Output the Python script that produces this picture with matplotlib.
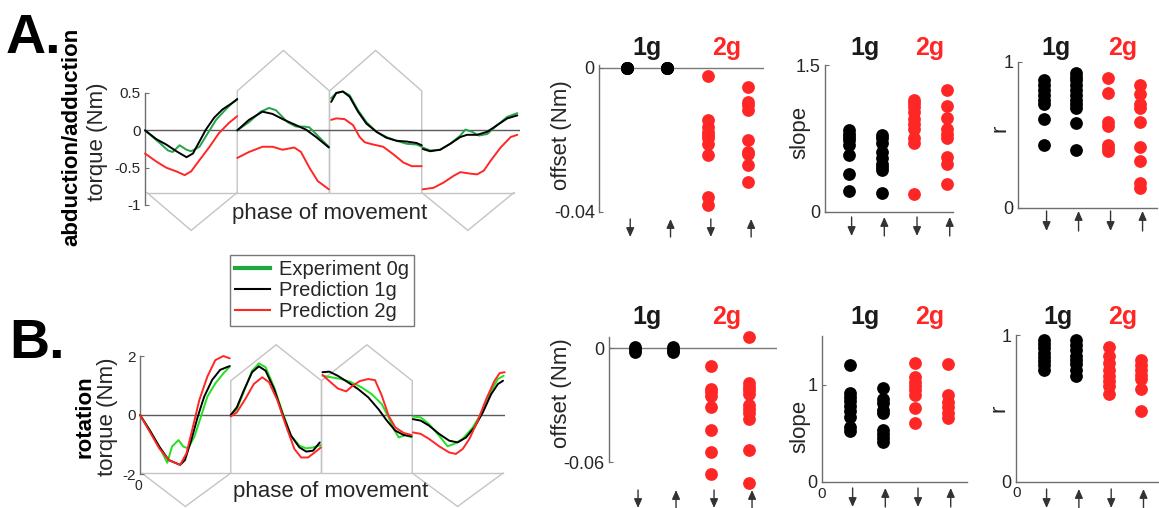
import matplotlib
matplotlib.use("Agg")
import matplotlib.pyplot as plt
from matplotlib.lines import Line2D
from matplotlib.transforms import blended_transform_factory

plt.rcParams['font.family'] = ['Liberation Sans', 'DejaVu Sans']

# ---------------- data ----------------
# torque traces: phase of movement (segment index + fraction) and torque (Nm)
abd_exp0g_phase = [
    [0, 0.16, 0.25, 0.30, 0.375, 0.45, 0.50, 0.59, 0.68, 0.77, 0.875, 0.95, 1.0],
    [1.0, 1.127, 1.255, 1.345, 1.418, 1.545, 1.636, 1.727, 1.782, 1.855, 1.927, 1.993],
    [2.018, 2.073, 2.145, 2.218, 2.309, 2.4, 2.509, 2.618, 2.727, 2.836, 2.945, 3.0],
    [3.011, 3.091, 3.2, 3.309, 3.418, 3.473, 3.545, 3.618, 3.709, 3.818, 3.927, 4.036]]
abd_exp0g = [
    [0.0, -0.17, -0.27, -0.29, -0.20, -0.26, -0.28, -0.22, -0.04, 0.14, 0.28, 0.37, 0.41],
    [0.0, 0.11, 0.25, 0.30, 0.27, 0.11, 0.05, 0.05, 0.04, -0.05, -0.14, -0.22],
    [0.43, 0.50, 0.52, 0.47, 0.27, 0.11, -0.02, -0.09, -0.14, -0.18, -0.19, -0.22],
    [-0.23, -0.27, -0.26, -0.18, -0.07, 0.01, -0.02, -0.07, -0.05, 0.07, 0.18, 0.23]]
abd_pred1g_phase = [
    [0, 0.125, 0.23, 0.34, 0.45, 0.52, 0.59, 0.66, 0.75, 0.84, 0.95, 1.0],
    [1.0, 1.127, 1.273, 1.382, 1.509, 1.636, 1.745, 1.855, 1.993],
    [2.018, 2.073, 2.145, 2.218, 2.309, 2.4, 2.509, 2.618, 2.727, 2.836, 2.945, 3.0],
    [3.011, 3.091, 3.2, 3.309, 3.418, 3.491, 3.6, 3.709, 3.818, 3.927, 4.036]]
abd_pred1g = [
    [0.0, -0.12, -0.19, -0.28, -0.36, -0.31, -0.15, 0.01, 0.17, 0.28, 0.37, 0.42],
    [0.0, 0.14, 0.25, 0.22, 0.14, 0.07, 0.01, -0.09, -0.23],
    [0.38, 0.50, 0.52, 0.45, 0.25, 0.09, -0.02, -0.10, -0.14, -0.15, -0.17, -0.20],
    [-0.25, -0.28, -0.26, -0.18, -0.09, -0.06, -0.06, -0.02, 0.07, 0.16, 0.20]]
abd_pred2g_phase = [
    [0, 0.125, 0.23, 0.34, 0.43, 0.50, 0.59, 0.70, 0.80, 0.91, 1.0],
    [1.0, 1.127, 1.273, 1.382, 1.491, 1.618, 1.691, 1.782, 1.873, 1.993],
    [2.018, 2.073, 2.164, 2.255, 2.327, 2.382, 2.473, 2.582, 2.691, 2.8, 2.891, 3.0],
    [3.011, 3.127, 3.236, 3.345, 3.418, 3.527, 3.6, 3.673, 3.745, 3.855, 3.964, 4.036]]
abd_pred2g = [
    [-0.31, -0.42, -0.50, -0.55, -0.60, -0.55, -0.40, -0.22, -0.04, 0.10, 0.19],
    [-0.37, -0.29, -0.22, -0.22, -0.26, -0.23, -0.29, -0.50, -0.68, -0.79],
    [0.14, 0.16, 0.15, 0.07, -0.09, -0.16, -0.19, -0.22, -0.32, -0.43, -0.48, -0.48],
    [-0.79, -0.77, -0.70, -0.61, -0.56, -0.58, -0.59, -0.54, -0.41, -0.23, -0.09, -0.06]]

rot_exp0g_phase = [
    [0, 0.106, 0.212, 0.30, 0.353, 0.424, 0.477, 0.530, 0.60, 0.671, 0.742, 0.830, 0.919, 0.989],
    [1.0, 1.067, 1.142, 1.235, 1.310, 1.384, 1.478, 1.571, 1.664, 1.757, 1.832, 1.907, 1.993],
    [2.011, 2.104, 2.216, 2.328, 2.440, 2.552, 2.664, 2.739, 2.795, 2.851, 2.925, 2.993],
    [3.007, 3.093, 3.185, 3.296, 3.389, 3.463, 3.556, 3.667, 3.778, 3.870, 3.944, 4.007]]
rot_exp0g = [
    [0.0, -0.51, -1.07, -1.62, -1.07, -0.85, -1.07, -1.13, -0.73, -0.06, 0.62, 1.07, 1.41, 1.64],
    [0.0, 0.20, 0.77, 1.50, 1.75, 1.62, 0.94, 0.09, -0.70, -1.04, -1.13, -1.10, -1.02],
    [1.33, 1.28, 1.22, 1.11, 0.94, 0.71, 0.37, -0.08, -0.47, -0.76, -0.68, -0.76],
    [-0.05, -0.08, -0.31, -0.70, -1.06, -0.98, -0.81, -0.42, 0.15, 0.82, 1.22, 1.33]]
rot_pred1g_phase = [
    [0, 0.106, 0.212, 0.318, 0.442, 0.495, 0.565, 0.636, 0.707, 0.795, 0.883, 0.989],
    [1.0, 1.067, 1.142, 1.235, 1.310, 1.384, 1.478, 1.571, 1.664, 1.757, 1.832, 1.907, 1.981],
    [2.011, 2.086, 2.179, 2.291, 2.403, 2.515, 2.627, 2.720, 2.813, 2.907, 2.993],
    [3.007, 3.093, 3.185, 3.296, 3.407, 3.5, 3.593, 3.685, 3.778, 3.870, 3.944, 4.0]]
rot_pred1g = [
    [0.0, -0.51, -1.07, -1.53, -1.69, -1.53, -0.85, -0.06, 0.62, 1.19, 1.53, 1.66],
    [0.0, 0.26, 0.82, 1.45, 1.65, 1.50, 0.88, 0.03, -0.70, -1.10, -1.24, -1.21, -0.93],
    [1.45, 1.47, 1.33, 1.11, 0.88, 0.60, 0.20, -0.19, -0.53, -0.68, -0.72],
    [-0.14, -0.19, -0.36, -0.64, -0.87, -0.93, -0.76, -0.42, 0.09, 0.71, 1.05, 1.16]]
rot_pred2g_phase = [
    [0, 0.106, 0.212, 0.318, 0.442, 0.512, 0.583, 0.654, 0.742, 0.830, 0.919, 0.989],
    [1.0, 1.067, 1.160, 1.254, 1.347, 1.422, 1.515, 1.608, 1.701, 1.776, 1.851, 1.925, 1.993],
    [2.011, 2.086, 2.179, 2.272, 2.347, 2.422, 2.515, 2.590, 2.664, 2.739, 2.813, 2.907, 2.993],
    [3.007, 3.093, 3.185, 3.296, 3.407, 3.481, 3.556, 3.630, 3.722, 3.815, 3.907, 3.963, 4.019]]
rot_pred2g = [
    [0.0, -0.56, -1.13, -1.53, -1.69, -1.30, -0.40, 0.51, 1.30, 1.86, 2.0, 1.92],
    [-0.05, 0.09, 0.54, 1.05, 1.28, 1.11, 0.49, -0.36, -1.15, -1.44, -1.44, -1.27, -1.10],
    [1.36, 1.15, 0.90, 0.80, 1.00, 1.15, 1.22, 1.18, 0.66, -0.02, -0.42, -0.61, -0.68],
    [-0.59, -0.64, -0.81, -1.06, -1.27, -1.32, -1.15, -0.81, -0.19, 0.54, 1.16, 1.42, 1.45]]

series_labels = ['Experiment 0g', 'Prediction 1g', 'Prediction 2g']
group_labels = ['1g', '2g']
direction_labels = ['down', 'up', 'down', 'up']

# scatter panels: columns = 1g down, 1g up, 2g down, 2g up
abd_offset = [[0, 0, 0, 0, 0], [0, 0, 0, 0, 0],
              [-0.0022, -0.0145, -0.0164, -0.0178, -0.0187, -0.0196, -0.021, -0.0243, -0.0358, -0.038],
              [-0.0053, -0.0094, -0.0104, -0.0118, -0.0201, -0.0233, -0.0238, -0.027, -0.0317]]
abd_slope = [[0.835, 0.80, 0.77, 0.73, 0.68, 0.58, 0.39, 0.21],
             [0.79, 0.75, 0.70, 0.61, 0.55, 0.49, 0.46, 0.43, 0.19],
             [1.14, 1.11, 1.07, 1.02, 0.95, 0.90, 0.85, 0.75, 0.70, 0.18],
             [1.25, 1.08, 0.96, 0.85, 0.80, 0.75, 0.56, 0.49, 0.29]]
abd_r = [[0.874, 0.845, 0.81, 0.776, 0.74, 0.71, 0.61, 0.43],
         [0.925, 0.90, 0.874, 0.845, 0.81, 0.776, 0.74, 0.71, 0.685, 0.58, 0.40],
         [0.89, 0.79, 0.59, 0.56, 0.43, 0.41, 0.39],
         [0.84, 0.78, 0.71, 0.685, 0.59, 0.42, 0.32, 0.17, 0.14]]
rot_offset = [[0.0009, -0.0005, -0.0018], [0.0009, -0.0007, -0.0021],
              [-0.0094, -0.0212, -0.0229, -0.0252, -0.0309, -0.0432, -0.0544, -0.0662],
              [0.0062, -0.0185, -0.0203, -0.0221, -0.0242, -0.030, -0.0318, -0.034, -0.037, -0.0535, -0.0711]]
rot_slope = [[1.20, 0.91, 0.87, 0.83, 0.78, 0.73, 0.67, 0.57, 0.52],
             [0.97, 0.85, 0.81, 0.74, 0.71, 0.53, 0.49, 0.45, 0.41],
             [1.22, 1.08, 1.03, 0.99, 0.95, 0.89, 0.76, 0.61],
             [1.21, 0.89, 0.82, 0.77, 0.71, 0.66]]
rot_r = [[0.966, 0.94, 0.91, 0.88, 0.85, 0.825, 0.795, 0.76],
         [0.966, 0.93, 0.90, 0.86, 0.83, 0.80, 0.76, 0.72],
         [0.916, 0.857, 0.807, 0.76, 0.72, 0.69, 0.65, 0.60],
         [0.83, 0.795, 0.76, 0.73, 0.70, 0.63, 0.48]]

# ---------------- figure ----------------
W, H = 1159, 508
fig = plt.figure(figsize=(W / 100, H / 100), dpi=100)
fig.patch.set_facecolor('white')

GRAY = '#c4c4c4'
AXC = '#6e6e6e'
TXT = '#262626'
RED = '#ff2626'
BLACK = '#000000'


def px_axes(x0, y0, x1, y1):
    return fig.add_axes([x0 / W, 1 - y1 / H, (x1 - x0) / W, (y1 - y0) / H])


def ftext(x, y, s, **kw):
    fig.text(x / W, 1 - y / H, s, **kw)


def style_left_only(ax, fs):
    for sp in ['top', 'right', 'bottom']:
        ax.spines[sp].set_visible(False)
    ax.spines['left'].set_color(AXC)
    ax.spines['left'].set_linewidth(1.0)
    ax.tick_params(axis='y', direction='in', length=3, colors=AXC, labelcolor=TXT, labelsize=fs, pad=3)
    ax.set_facecolor('none')


def torque_panel(rect, xlim, ylim, yticks, ytl, series, colors, widths, bot, top, peak, vbot):
    ax = px_axes(*rect)
    ax.set_xlim(*xlim)
    ax.set_ylim(*ylim)
    style_left_only(ax, 11)
    ax.set_yticks(yticks)
    ax.set_yticklabels(ytl)
    ax.set_xticks([])
    kw = dict(color=GRAY, lw=1.0, clip_on=False, zorder=1, solid_joinstyle='miter')
    ax.plot([0.02, 4.0], [bot, bot], **kw)
    ax.plot([0.02, 0.5, 1.0], [bot, vbot, bot], **kw)
    ax.plot([3.0, 3.5, 4.0], [bot, vbot, bot], **kw)
    for k in (1, 2):
        ax.plot([k, k, k + 0.5, k + 1, k + 1], [bot, top, peak, top, bot], **kw)
    ax.axhline(0, color='#5a5a5a', lw=1.0, zorder=2)
    for (phs, vals), c, lw in zip(series, colors, widths):
        for p, v in zip(phs, vals):
            ax.plot(p, v, color=c, lw=lw, zorder=3, clip_on=False,
                    solid_joinstyle='round', solid_capstyle='round')
    return ax


axA = torque_panel((145, 93, 520, 205), (0, 4.065), (-1, 0.5), [-1, -0.5, 0, 0.5],
                   ['-1', '-0.5', '0', '0.5'],
                   [(abd_exp0g_phase, abd_exp0g), (abd_pred1g_phase, abd_pred1g), (abd_pred2g_phase, abd_pred2g)],
                   ['#24a447', BLACK, RED], [1.4, 1.4, 1.4], -0.833, 0.527, 1.07, -1.34)
axB = torque_panel((140, 356, 505, 474), (0, 4.022), (-2, 2), [-2, 0, 2], ['-2', '0', '2'],
                   [(rot_exp0g_phase, rot_exp0g), (rot_pred1g_phase, rot_pred1g), (rot_pred2g_phase, rot_pred2g)],
                   ['#22e022', BLACK, RED], [1.4, 1.4, 1.4], -1.97, 1.16, 2.38, -3.1)

ftext(330, 214, 'phase of movement', fontsize=16, color=TXT, ha='center', va='center')
ftext(331, 491, 'phase of movement', fontsize=16, color=TXT, ha='center', va='center')
ftext(138, 486, '0', fontsize=10, color=TXT, ha='center', va='center')

ftext(72, 137, 'abduction/adduction', fontsize=16, fontweight='bold', rotation=90, ha='center', va='center', color=BLACK)
ftext(97, 142, 'torque (Nm)', fontsize=16, rotation=90, ha='center', va='center', color=TXT)
ftext(85, 417, 'rotation', fontsize=16, fontweight='bold', rotation=90, ha='center', va='center', color=BLACK)
ftext(108, 417, 'torque (Nm)', fontsize=16, rotation=90, ha='center', va='center', color=TXT)

ftext(6, 53, 'A.', fontsize=40, fontweight='bold', ha='left', va='baseline', color=BLACK)
ftext(9, 358, 'B.', fontsize=40, fontweight='bold', ha='left', va='baseline', color=BLACK)

# legend
handles = [Line2D([], [], color='#1fa83e', lw=3.0),
           Line2D([], [], color=BLACK, lw=1.5),
           Line2D([], [], color=RED, lw=1.5)]
leg = fig.legend(handles, series_labels, loc='upper left', bbox_to_anchor=(230 / W, 1 - 255 / H),
                 fontsize=14.5, frameon=True, fancybox=False, edgecolor='#555555',
                 handlelength=1.75, handletextpad=0.45, labelspacing=0.1, borderpad=0.25,
                 borderaxespad=0.0)
leg.get_frame().set_linewidth(1.0)
for t in leg.get_texts():
    t.set_color(TXT)


# ---------------- scatter panels ----------------
def scatter_panel(axis_px, col1_px, spacing, right_px, top_px, bottom_px, ylim, spine_bounds,
                  yticks, ytl, cols, zero_line, bottom_axis, arrow_px):
    x0 = 1 - (col1_px - axis_px) / spacing
    x1 = x0 + (right_px - axis_px) / spacing
    ax = px_axes(axis_px, top_px, right_px, bottom_px)
    ax.set_xlim(x0, x1)
    ax.set_ylim(*ylim)
    style_left_only(ax, 13)
    ax.spines['left'].set_bounds(*spine_bounds)
    ax.set_yticks(yticks)
    ax.set_yticklabels(ytl)
    if bottom_axis:
        ax.spines['bottom'].set_visible(True)
        ax.spines['bottom'].set_color(AXC)
        ax.spines['bottom'].set_linewidth(1.0)
    if zero_line:
        ax.axhline(0, color='#7a7a7a', lw=1.0, zorder=1)
    ax.set_xticks([])
    # direction arrows under each column
    tr = blended_transform_factory(ax.transData, fig.transFigure)
    ya, yb = 1 - arrow_px[0] / H, 1 - arrow_px[1] / H
    for i, d in enumerate(direction_labels):
        xc = i + 1 + 0.08
        start, end = ((xc, ya), (xc, yb)) if d == 'down' else ((xc, yb), (xc, ya))
        ax.annotate('', xy=end, xytext=start, xycoords=tr, textcoords=tr, annotation_clip=False,
                    arrowprops=dict(arrowstyle='-|>,head_length=0.45,head_width=0.2', color='#333333',
                                    lw=1.0, shrinkA=0, shrinkB=0, mutation_scale=12))
    for i, vals in enumerate(cols):
        c = BLACK if i < 2 else RED
        ax.plot([i + 1] * len(vals), vals, 'o', ms=9.2, color=c, mec=c, mew=0, zorder=3, clip_on=False)
    return ax


scatter_panel(599, 627, 40.3, 764, 65, 212, (-0.04, 0.0008), (-0.04, 0.0008), [-0.04, 0], ['-0.04', '0'],
              abd_offset, True, False, (219, 237))
scatter_panel(825, 849, 32.7, 953, 65, 212, (0, 1.5), (0, 1.5), [0, 1.5], ['0', '1.5'],
              abd_slope, False, True, (217, 236))
scatter_panel(1018, 1044, 32.0, 1157, 62, 208, (0, 1), (0, 1), [0, 1], ['0', '1'],
              abd_r, False, True, (211, 231))
scatter_panel(609, 635, 38.0, 777, 337, 485, (-0.072, 0.006), (-0.06, 0.006), [-0.06, 0], ['-0.06', '0'],
              rot_offset, True, False, (490, 508))
scatter_panel(822, 850, 32.7, 967, 336, 482, (0, 1.5), (0, 1.5), [0, 1], ['0', '1'],
              rot_slope, False, True, (488, 507))
scatter_panel(1016, 1044, 32.3, 1158, 335, 482, (0, 1), (0, 1), [0, 1], ['0', '1'],
              rot_r, False, True, (489, 508))

ftext(822, 494, '0', fontsize=11, color=TXT, ha='center', va='center')
ftext(1017, 493, '0', fontsize=11, color=TXT, ha='center', va='center')

# group titles
for y, xs in ((48, ((647, 727), (865, 930), (1056, 1123))), (317, ((647, 727), (865, 930), (1058, 1123)))):
    for x1g, x2g in xs:
        ftext(x1g, y, group_labels[0], fontsize=18, fontweight='bold', color='#1a1a1a', ha='center', va='center')
        ftext(x2g, y, group_labels[1], fontsize=18, fontweight='bold', color=RED, ha='center', va='center')

# y labels
ftext(562, 135, 'offset (Nm)', fontsize=16, rotation=90, ha='center', va='center', color=TXT)
ftext(562, 393, 'offset (Nm)', fontsize=16, rotation=90, ha='center', va='center', color=TXT)
ftext(800, 132, 'slope', fontsize=16, rotation=90, ha='center', va='center', color=TXT)
ftext(800, 426, 'slope', fontsize=16, rotation=90, ha='center', va='center', color=TXT)
ftext(1000, 128, 'r', fontsize=16, rotation=90, ha='center', va='center', color=TXT)
ftext(999, 408, 'r', fontsize=16, rotation=90, ha='center', va='center', color=TXT)

fig.savefig('out.png', dpi=100, facecolor='white')
